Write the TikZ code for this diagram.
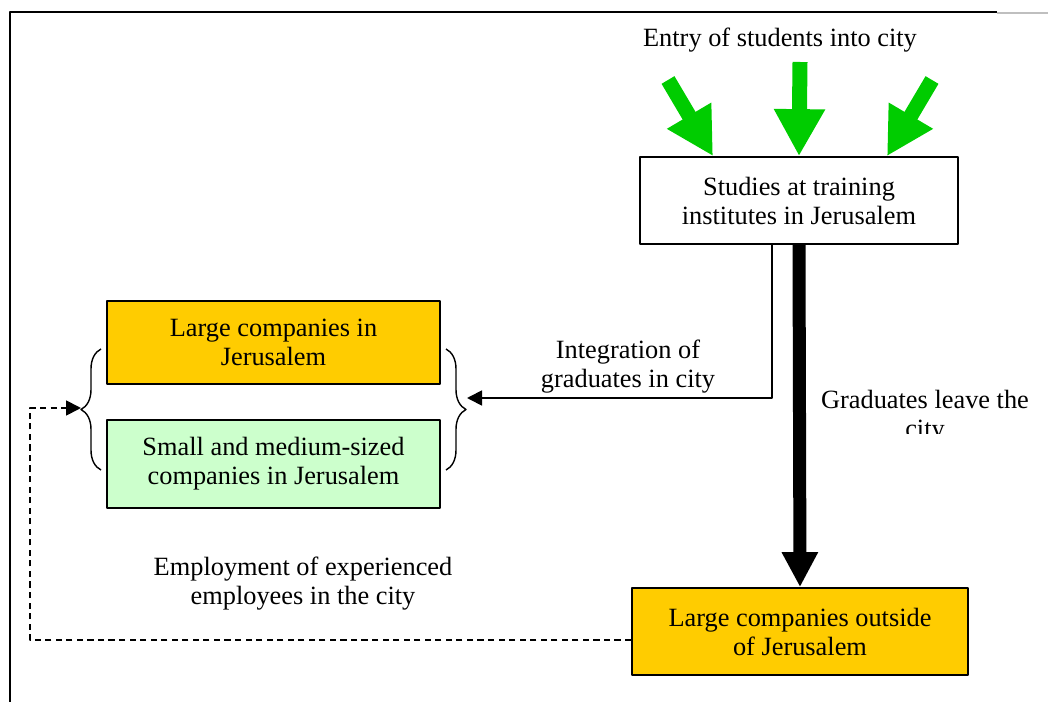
\documentclass[tikz,border=0pt]{standalone}
\usepackage{fontspec}
\setmainfont{Liberation Serif}
\usetikzlibrary{arrows.meta,calc,decorations.pathreplacing}
\definecolor{gold}{HTML}{FFCC00}
\definecolor{mint}{HTML}{CCFFCC}
\definecolor{leaf}{HTML}{00CC00}
\tikzset{
  box/.style={draw,line width=1pt,align=center,inner sep=0pt,font=\fontsize{15}{16.5}\selectfont},
  lbl/.style={align=center,inner sep=0pt,font=\fontsize{15}{16.5}\selectfont},
  inflow/.style={leaf,line width=0.3cm,-{Triangle[width=0.96cm,length=0.94cm]}},
  outflow/.style={black,line width=0.26cm,-{Triangle[width=0.68cm,length=0.7cm]}},
  thin/.style={line width=1pt,-{Triangle[width=0.3cm,length=0.3cm]}},
  curly/.style={decorate,decoration={brace,amplitude=0.4cm},line width=0.8pt}
}
\begin{document}
\begin{tikzpicture}[x=0.02cm,y=-0.02cm,join=round] % Graduates flow
       \useasboundingbox (0,0) rectangle (1048,702);
       \draw[line width=1.2pt](10,702)--(10,12)--(997,12);
       \draw[gray!50,line width=0.6pt](997,13)--(1048,13);
       \node[lbl] (entry) at (780,40) {Entry of students into city};
       \node[box,fill=white,minimum width=6.36cm,minimum height=1.74cm] (studies) at (799,200.5) {Studies at training\\institutes in Jerusalem};
       \node[box,fill=gold,minimum width=6.66cm,minimum height=1.66cm] (largein) at (273.5,342.5) {Large companies in\\Jerusalem};
       \node[box,fill=mint,minimum width=6.66cm,minimum height=1.76cm] (smallmed) at (273.5,464) {Small and medium-sized\\companies in Jerusalem};
       \node[box,fill=gold,minimum width=6.72cm,minimum height=1.74cm] (largeout) at (800,631.5) {Large companies outside\\of Jerusalem};
       \node[lbl] (integ) at (628,367) {Integration of\\graduates in city};
       \node[lbl] (employ) at (303,584) {Employment of experienced\\employees in the city};
       \begin{scope}
          \clip (805,370) rectangle (1048,433);
          \node[lbl] (leave) at (925,417) {Graduates leave the\\city};
       \end{scope}
       \coordinate (tailL) at (668,80);
       \coordinate (tailM) at (800,62);
       \coordinate (tailR) at (932,80);
       \draw[inflow](tailL)--($(studies.north)+(-86,0)$);
       \draw[inflow](tailM)--(studies.north);
       \draw[inflow](tailR)--($(studies.north)+(88,0)$);
       \draw[curly](101,470)--(101,349);
       \draw[curly](446,349)--(446,470);
       \coordinate (tipL) at (81,408);
       \coordinate (tipR) at (467,398);
       \coordinate (dashcorner) at (30,640);
       \draw[outflow](studies.south)--(largeout.north);
       \draw[thin]($(studies.south)+(-27,0)$)|-(tipR);
       \draw[thin,dash pattern=on 3.5pt off 2.5pt](largeout.west|-dashcorner)--(dashcorner)|-(tipL);
   \end{tikzpicture}
\end{document}
